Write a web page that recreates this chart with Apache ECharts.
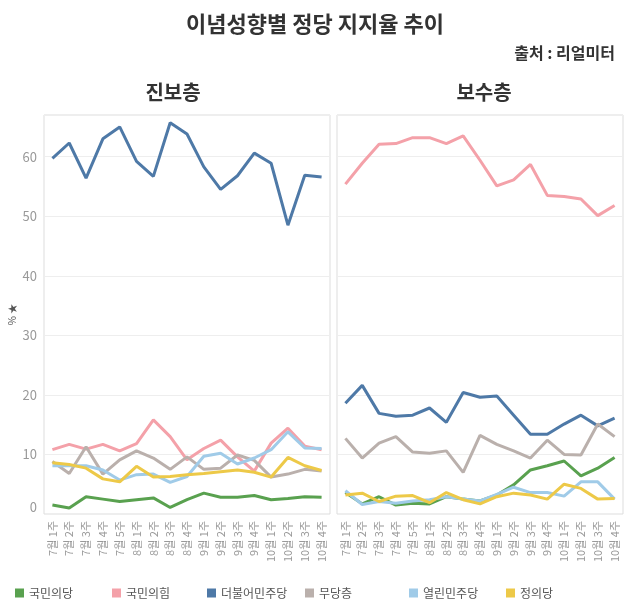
<!DOCTYPE html>
<html>
<head>
<meta charset="utf-8">
<script src="https://cdn.jsdelivr.net/npm/echarts@6/dist/echarts.min.js"></script>
<style>
html,body{margin:0;padding:0;background:#fff;}
#c{width:630px;height:604px;}
</style>
</head>
<body>
<div id="c"></div>
<script>
const categories = ['7월 1주','7월 2주','7월 3주','7월 4주','7월 5주','8월 1주','8월 2주','8월 3주','8월 4주','9월 1주','9월 2주','9월 3주','9월 4주','10월 1주','10월 2주','10월 3주','10월 4주'];
const parties = ['국민의당','국민의힘','더불어민주당','무당층','열린민주당','정의당'];
const colors = ['#59a14f','#f4a1a9','#4e79a7','#bab0ac','#a0cbe8','#edc948'];
const yTicks = [0,10,20,30,40,50,60];

// 진보층 (progressive)
const progPeople    = [1.5,1.0,2.9,2.5,2.1,2.4,2.7,1.1,2.4,3.5,2.8,2.8,3.1,2.4,2.6,2.9,2.8];
const progPPP       = [10.8,11.7,10.9,11.7,10.6,11.8,15.8,13.0,9.1,11.0,12.4,9.6,7.2,11.9,14.4,11.4,10.8];
const progDemocrat  = [59.7,62.3,56.4,63.0,65.0,59.2,56.7,65.7,63.8,58.3,54.5,56.8,60.6,58.9,48.5,56.9,56.6];
const progNone      = [8.8,6.8,11.3,6.7,9.1,10.6,9.4,7.5,9.6,7.5,7.7,9.9,9.0,6.2,6.7,7.5,7.2];
const progOpen      = [8.1,8.1,8.1,7.4,5.7,6.6,6.7,5.3,6.3,9.7,10.2,8.4,9.4,10.8,13.8,11.1,11.0];
const progJustice   = [8.6,8.3,7.7,5.9,5.4,8.0,6.2,6.3,6.6,6.8,7.1,7.4,7.0,6.2,9.5,8.1,7.3];

// 보수층 (conservative)
const consPeople    = [3.6,1.7,2.9,1.5,1.8,1.7,2.9,2.5,2.2,3.2,4.9,7.4,8.1,8.9,6.4,7.7,9.5];
const consPPP       = [55.4,58.9,62.1,62.2,63.2,63.2,62.2,63.5,59.4,55.1,56.1,58.7,53.5,53.3,52.9,50.1,51.8];
const consDemocrat  = [18.6,21.6,16.9,16.4,16.6,17.8,15.4,20.4,19.6,19.8,16.6,13.4,13.4,15.1,16.6,14.8,16.1];
const consNone      = [12.7,9.4,11.9,13.0,10.4,10.2,10.6,7.0,13.2,11.7,10.6,9.4,12.4,10.0,9.9,15.1,13.0];
const consOpen      = [3.9,1.6,2.1,1.8,2.2,2.4,2.9,2.5,2.2,3.3,4.5,3.6,3.6,3.0,5.4,5.4,2.5];
const consJustice   = [3.2,3.5,2.1,3.0,3.1,1.9,3.6,2.4,1.7,2.9,3.5,3.2,2.5,5.0,4.3,2.5,2.6];

const progData = [progPeople, progPPP, progDemocrat, progNone, progOpen, progJustice];
const consData = [consPeople, consPPP, consDemocrat, consNone, consOpen, consJustice];

const FONT = 'Noto Sans CJK KR';
const chart = echarts.init(document.getElementById('c'), null, {renderer:'canvas'});

function xAxis(gi){
  return {
    type:'category', gridIndex:gi, data:categories, boundaryGap:true,
    axisLine:{show:false}, axisTick:{show:false},
    axisLabel:{rotate:90, interval:0, color:'#999', fontSize:11, fontFamily:FONT, margin:7}
  };
}
function yAxis(gi, showLabels){
  const ax = {
    type:'value', gridIndex:gi, min:0, max:67, interval:10,
    axisLine:{show:false}, axisTick:{show:false},
    splitLine:{show:true, lineStyle:{color:'#eeeeee', width:1}},
    axisLabel:{show:showLabels, color:'#999', fontSize:13, fontFamily:FONT, margin:7,
      showMaxLabel:false, verticalAlignMinLabel:'bottom',
      formatter: v => yTicks.includes(v) ? String(v) : ''}
  };
  if (showLabels) {
    ax.name = '% ★';
    ax.nameLocation = 'middle';
    ax.nameRotate = 90;
    ax.nameGap = 27;
    ax.nameTextStyle = {color:'#555', fontSize:10, fontFamily:FONT};
  }
  return ax;
}

const series = [];
parties.forEach((p,i)=>{
  series.push({name:p, type:'line', xAxisIndex:0, yAxisIndex:0, data:progData[i],
    symbol:'none', lineStyle:{width:3, color:colors[i]}, itemStyle:{color:colors[i]}, z: i===2?3:2});
  series.push({name:p, type:'line', xAxisIndex:1, yAxisIndex:1, data:consData[i],
    symbol:'none', lineStyle:{width:3, color:colors[i]}, itemStyle:{color:colors[i]}, z: i===1?3:2});
});

const legendLefts = [10, 107, 202, 300, 404, 501];
const legends = parties.map((p,i)=>({
  data:[p], left:legendLefts[i], top:582, icon:'rect', itemWidth:9, itemHeight:9,
  textStyle:{fontSize:12, color:'#555', fontFamily:FONT}
}));

chart.setOption({
  animation:false,
  backgroundColor:'#fff',
  textStyle:{fontFamily:FONT},
  title:[
    {text:'이념성향별 정당 지지율 추이', left:'center', top:8,
      textStyle:{fontSize:22, fontWeight:'bold', color:'#333', fontFamily:FONT}},
    {text:'출처 : 리얼미터', right:10, top:40,
      textStyle:{fontSize:16, fontWeight:'bold', color:'#333', fontFamily:FONT}},
    {text:'진보층', left:168, top:77, textAlign:'center',
      textStyle:{fontSize:20, fontWeight:'bold', color:'#333', fontFamily:FONT}},
    {text:'보수층', left:479, top:77, textAlign:'center',
      textStyle:{fontSize:20, fontWeight:'bold', color:'#333', fontFamily:FONT}}
  ],
  legend:legends,
  grid:[
    {left:44, top:115, width:286, height:399, show:true, borderColor:'#dddddd', borderWidth:1, backgroundColor:'transparent'},
    {left:337, top:115, width:286, height:399, show:true, borderColor:'#dddddd', borderWidth:1, backgroundColor:'transparent'}
  ],
  xAxis:[xAxis(0), xAxis(1)],
  yAxis:[yAxis(0,true), yAxis(1,false)],
  series:series
});
</script>
</body>
</html>
